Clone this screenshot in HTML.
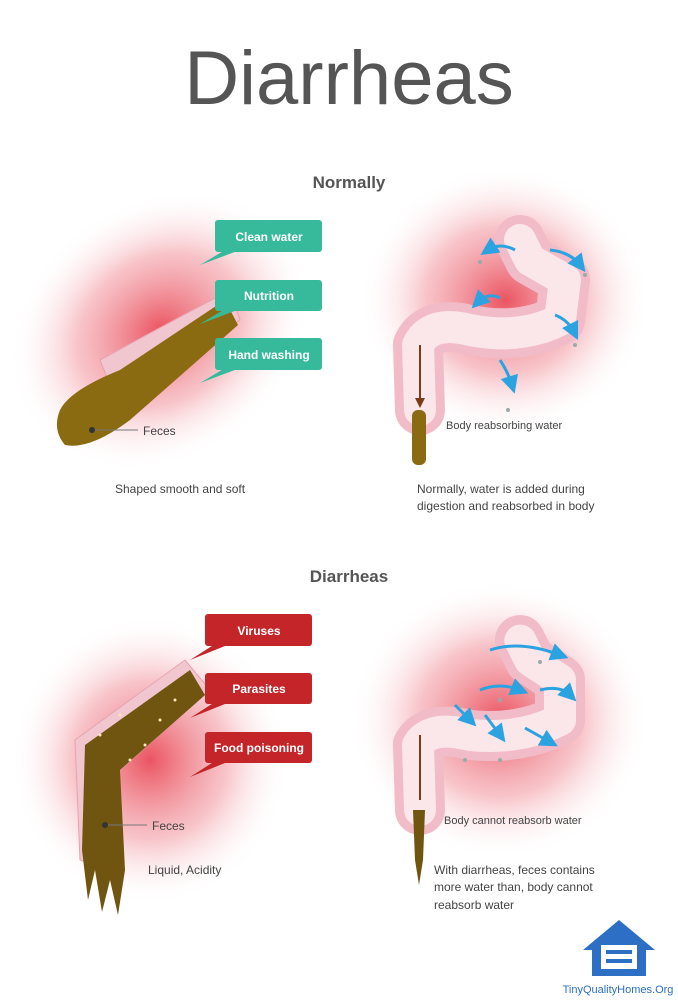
<!DOCTYPE html>
<html><head><meta charset="utf-8"><style>
body{margin:0;background:#fff;}
svg{display:block;font-family:"Liberation Sans",sans-serif;}
</style></head><body>
<svg width="678" height="1000" viewBox="0 0 678 1000" xmlns="http://www.w3.org/2000/svg">
<defs>
<radialGradient id="glow" cx="50%" cy="50%" r="50%">
<stop offset="0%" stop-color="#e8414f" stop-opacity="0.9"/>
<stop offset="55%" stop-color="#f08a94" stop-opacity="0.5"/>
<stop offset="100%" stop-color="#fff" stop-opacity="0"/>
</radialGradient>
<marker id="ah" markerWidth="6" markerHeight="6" refX="3" refY="3" orient="auto"><path d="M0 0 L6 3 L0 6 Z" fill="#2ba3e0"/></marker>
</defs>
<rect width="678" height="1000" fill="#fff"/>
<text x="349" y="104" font-size="76" fill="#555" text-anchor="middle">Diarrheas</text>
<text x="349" y="188" font-size="17" font-weight="bold" fill="#555" text-anchor="middle">Normally</text>
<text x="349" y="582" font-size="17" font-weight="bold" fill="#555" text-anchor="middle">Diarrheas</text>

<!-- glows -->
<ellipse cx="160" cy="330" rx="160" ry="130" fill="url(#glow)" transform="rotate(-35 160 330)"/>
<ellipse cx="505" cy="300" rx="145" ry="135" fill="url(#glow)"/>
<ellipse cx="150" cy="760" rx="140" ry="145" fill="url(#glow)"/>
<ellipse cx="500" cy="720" rx="150" ry="140" fill="url(#glow)"/>

<!-- normal feces -->
<path d="M100 360 L230 290 L240 320 L120 410 Z" fill="#f2c6cf" stroke="#e7a2b0"/>
<path d="M60 410 Q70 390 120 370 L225 300 L238 325 L130 420 Q90 450 65 445 Q52 430 60 410 Z" fill="#8b6b12"/>
<!-- normal colon -->
<path d="M420 410 L418 345 Q430 320 470 330 Q520 340 560 320 L565 280 L530 260 L520 240" fill="none" stroke="#f1bcc8" stroke-width="50" stroke-linecap="round" stroke-linejoin="round"/>
<path d="M420 410 L418 345 Q430 320 470 330 Q520 340 560 320 L565 280 L530 260 L520 240" fill="none" stroke="#fbe6ea" stroke-width="32" stroke-linecap="round" stroke-linejoin="round" stroke-dasharray="18 3"/>
<rect x="412" y="410" width="14" height="55" rx="6" fill="#8b6b12"/>
<path d="M420 345 L420 400" stroke="#7a3b16" stroke-width="2"/>
<path d="M415 398 L420 408 L425 398 Z" fill="#7a3b16"/>
<g stroke="#2ba3e0" stroke-width="3" fill="none" marker-end="url(#ah)">
<path d="M515 250 Q500 242 488 250"/><path d="M550 250 Q570 252 580 265"/>
<path d="M500 298 Q488 292 478 302"/><path d="M555 315 Q568 320 574 332"/>
<path d="M500 360 Q508 372 512 385"/>
</g>
<g fill="#9aa" ><circle cx="480" cy="262" r="2"/><circle cx="585" cy="275" r="2"/><circle cx="575" cy="345" r="2"/><circle cx="508" cy="410" r="2"/></g>

<!-- diarrhea feces -->
<path d="M75 740 L185 660 L210 690 L120 770 L110 870 L80 860 Z" fill="#f2c6cf" stroke="#e7a2b0"/>
<path d="M85 745 L190 670 L205 695 L120 770 L125 870 L118 915 L110 880 L102 912 L95 870 L88 900 L82 850 Z" fill="#6f5510"/>
<g fill="#fde6c0"><circle cx="100" cy="735" r="1.5"/><circle cx="120" cy="715" r="1.5"/><circle cx="145" cy="745" r="1.5"/><circle cx="160" cy="720" r="1.5"/><circle cx="130" cy="760" r="1.5"/><circle cx="175" cy="700" r="1.5"/></g>
<!-- diarrhea colon -->
<path d="M420 810 L418 745 Q430 725 470 735 Q520 740 560 720 L560 680 L530 660 L520 640" fill="none" stroke="#f1bcc8" stroke-width="50" stroke-linecap="round" stroke-linejoin="round"/>
<path d="M420 810 L418 745 Q430 725 470 735 Q520 740 560 720 L560 680 L530 660 L520 640" fill="none" stroke="#fbe6ea" stroke-width="32" stroke-linecap="round" stroke-linejoin="round" stroke-dasharray="18 3"/>
<path d="M413 810 L425 810 L423 860 L419 885 L415 860 Z" fill="#6f5510"/>
<path d="M420 735 L420 800" stroke="#7a3b16" stroke-width="2"/>
<g stroke="#2ba3e0" stroke-width="3" fill="none" marker-end="url(#ah)">
<path d="M490 650 Q520 640 560 655"/><path d="M480 690 Q500 682 520 690"/>
<path d="M455 705 L470 720"/><path d="M485 715 L500 735"/><path d="M525 728 L550 742"/><path d="M540 690 Q560 685 570 695"/>
</g>
<g fill="#9aa"><circle cx="540" cy="662" r="2"/><circle cx="500" cy="700" r="2"/><circle cx="465" cy="760" r="2"/><circle cx="500" cy="760" r="2"/></g>

<!-- teal labels -->
<g fill="#37b99c">
<rect x="215" y="220" width="107" height="32" rx="3"/><path d="M225 250 L200 265 L240 250 Z"/>
<rect x="215" y="280" width="107" height="31" rx="3"/><path d="M225 309 L200 324 L240 309 Z"/>
<rect x="215" y="338" width="107" height="32" rx="3"/><path d="M225 368 L200 383 L240 368 Z"/>
</g>
<g fill="#fff" font-size="12" font-weight="bold" text-anchor="middle">
<text x="269" y="241">Clean water</text>
<text x="269" y="300">Nutrition</text>
<text x="269" y="359">Hand washing</text>
</g>
<!-- red labels -->
<g fill="#c42529">
<rect x="205" y="614" width="107" height="32" rx="3"/><path d="M215 644 L190 660 L230 644 Z"/>
<rect x="205" y="673" width="107" height="31" rx="3"/><path d="M215 702 L190 718 L230 702 Z"/>
<rect x="205" y="732" width="107" height="31" rx="3"/><path d="M215 761 L190 777 L230 761 Z"/>
</g>
<g fill="#fff" font-size="12" font-weight="bold" text-anchor="middle">
<text x="259" y="635">Viruses</text>
<text x="259" y="693">Parasites</text>
<text x="259" y="752">Food poisoning</text>
</g>

<g font-size="12" fill="#444">
<circle cx="92" cy="430" r="3" fill="#333"/><line x1="95" y1="430" x2="138" y2="430" stroke="#777"/>
<text x="143" y="435">Feces</text>
<text x="115" y="493">Shaped smooth and soft</text>
<text x="446" y="429" font-size="11">Body reabsorbing water</text>
<text x="417" y="493">Normally, water is added during</text>
<text x="417" y="510">digestion and reabsorbed in body</text>
<circle cx="105" cy="825" r="3" fill="#333"/><line x1="108" y1="825" x2="147" y2="825" stroke="#777"/>
<text x="152" y="830">Feces</text>
<text x="148" y="874">Liquid, Acidity</text>
<text x="444" y="824" font-size="11">Body cannot reabsorb water</text>
<text x="434" y="874">With diarrheas, feces contains</text>
<text x="434" y="891">more water than, body cannot</text>
<text x="434" y="909">reabsorb water</text>
</g>

<!-- logo -->
<path d="M583 950 L619 920 L655 950 L646 950 L646 976 L592 976 L592 950 Z" fill="#2d6fc4"/>
<rect x="601" y="945" width="36" height="24" fill="#fff"/>
<rect x="606" y="950" width="26" height="4" fill="#2d6fc4"/>
<rect x="606" y="959" width="26" height="4" fill="#2d6fc4"/>
<text x="618" y="993" font-size="11" fill="#2d6fc4" text-anchor="middle">TinyQualityHomes.Org</text>
</svg>
</body></html>
